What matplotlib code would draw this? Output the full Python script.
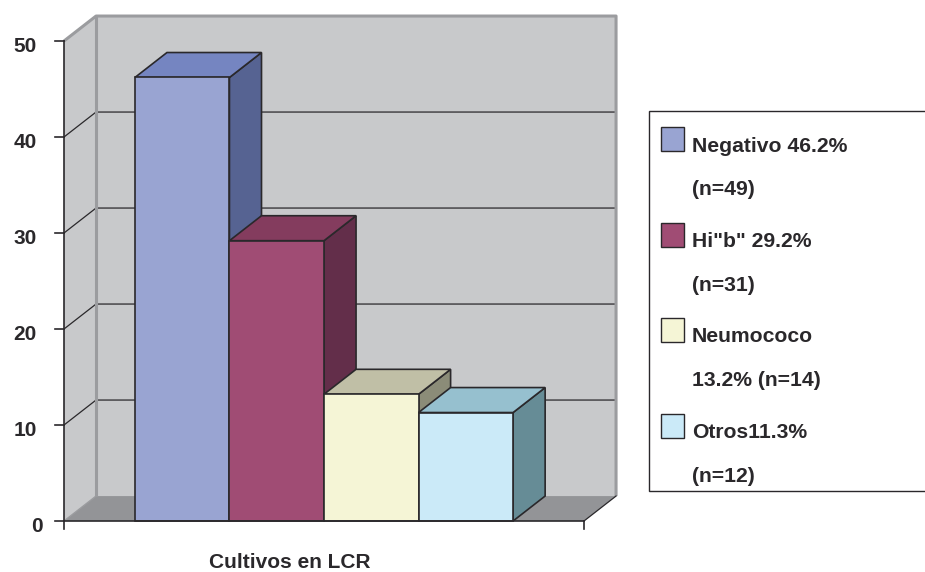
import matplotlib
matplotlib.use("Agg")
import matplotlib.pyplot as plt
from matplotlib.patches import Polygon, Rectangle

plt.rcParams["font.family"] = ["Liberation Sans", "DejaVu Sans"]

categories = ["Negativo", "Hib", "Neumococo", "Otros"]
values = [46.2, 29.2, 13.2, 11.3]
legend_lines = ["Negativo 46.2%", "(n=49)", 'Hi"b" 29.2%', "(n=31)",
                "Neumococo", "13.2% (n=14)", "Otros11.3%", "(n=12)"]
yticks = [0, 10, 20, 30, 40, 50]
axis_title = "Cultivos en LCR"

front_colors = ["#99a4d2", "#a04c74", "#f5f5d6", "#cbeaf8"]
top_colors = ["#7585c1", "#843c5e", "#c0bfa6", "#96c0cf"]
side_colors = ["#566392", "#632e4a", "#8b8c78", "#668c96"]

WALL = "#c8c9cb"
WALL_EDGE = "#9b9c9f"
FLOOR = "#939497"
DARK = "#2a282b"

W, H = 925, 572
fig = plt.figure(figsize=(W / 100, H / 100), dpi=100)
ax = fig.add_axes([64 / W, (H - 521) / H, 520 / W, 480 / H])
ax.set_xlim(-0.75, 4.75)
ax.set_ylim(0, 50)
ax.axis("off")

# depth of the fake 3d box, in data units
dx = 0.339
dy = 2.6
x0, x1 = ax.get_xlim()


def poly(points, face, edge="none", lw=1.2, z=1):
    ax.add_patch(Polygon(points, closed=True, facecolor=face, edgecolor=edge,
                         linewidth=lw, zorder=z, clip_on=False, joinstyle="miter"))


# walls and floor
poly([(x0, 0), (x0 + dx, dy), (x0 + dx, 50 + dy), (x0, 50)], WALL)
poly([(x0 + dx, dy), (x1 + dx, dy), (x1 + dx, 50 + dy), (x0 + dx, 50 + dy)], WALL)
poly([(x0, 0), (x0 + dx, dy), (x1 + dx, dy), (x1, 0)], FLOOR)

# gridlines run along the back wall and down the side wall
for t in yticks[1:-1]:
    ax.plot([x0, x0 + dx, x1 + dx], [t, t + dy, t + dy], color=DARK, lw=0.9, zorder=2,
            clip_on=False, solid_joinstyle="miter")

wall_edge = dict(color=WALL_EDGE, lw=2.2, zorder=2, clip_on=False, solid_capstyle="butt")
ax.plot([x0, x0 + dx, x1 + dx, x1 + dx], [50, 50 + dy, 50 + dy, dy], **wall_edge)
ax.plot([x0 + dx, x0 + dx], [dy, 50 + dy], **wall_edge)
ax.plot([x0, x0 + dx], [0, dy], color=WALL_EDGE, lw=1.0, zorder=2, clip_on=False)
ax.plot([x1, x1 + dx], [0, dy], color=DARK, lw=0.9, zorder=2, clip_on=False)

# bars, drawn left to right so the next front face covers the previous side
for i, v in enumerate(values):
    l, r = i, i + 1
    poly([(r, 0), (r + dx, dy), (r + dx, v + dy), (r, v)], side_colors[i], DARK, z=3 + i)
    poly([(l, v), (l + dx, v + dy), (r + dx, v + dy), (r, v)], top_colors[i], DARK, z=3 + i)
    ax.add_patch(Rectangle((l, 0), 1, v, facecolor=front_colors[i], edgecolor=DARK,
                           linewidth=1.2, zorder=3 + i, clip_on=False))

# axes
ax.plot([x0, x0], [0, 50], color=DARK, lw=1.2, zorder=8, clip_on=False)
ax.plot([x0, x1], [0, 0], color=DARK, lw=1.2, zorder=8, clip_on=False)
for t in yticks:
    ax.plot([x0 - 0.095, x0], [t, t], color=DARK, lw=1.2, zorder=8, clip_on=False)
    # the single digit label sits closer to the axis than the others
    gap = 21 if t == 0 else 27
    ax.annotate(str(t), (x0, t), xytext=(-gap * 0.72, -11.5 * 0.72), textcoords="offset points",
                ha="right", va="baseline", fontsize=15, fontweight="bold", color=DARK)
for x in [x0, x1]:
    ax.plot([x, x], [0, -0.85], color=DARK, lw=1.2, zorder=8, clip_on=False)

fig.text(290 / W, 1 - 568.5 / H, axis_title, ha="center", va="baseline", fontsize=15,
         fontweight="bold", color=DARK)

# legend box has no right edge, it runs off the figure
lg = fig.add_axes([0, 0, 1, 1], facecolor="none")
lg.set_xlim(0, W)
lg.set_ylim(H, 0)
lg.axis("off")
lg.plot([W, 649, 649, W], [111, 111, 491, 491], color=DARK, lw=1.0, solid_joinstyle="miter")

swatch_tops = [127, 223, 318, 414]
for top, c in zip(swatch_tops, front_colors):
    lg.add_patch(Rectangle((660.5, top), 23, 24, facecolor=c, edgecolor=DARK, linewidth=1.0))

text_y = [152, 195, 247, 291, 342, 386, 438, 482]
for y, line in zip(text_y, legend_lines):
    lg.text(692, y, line, ha="left", va="baseline", fontsize=15.2, fontweight="bold", color=DARK)

fig.savefig("out.png", dpi=100, facecolor="white")
